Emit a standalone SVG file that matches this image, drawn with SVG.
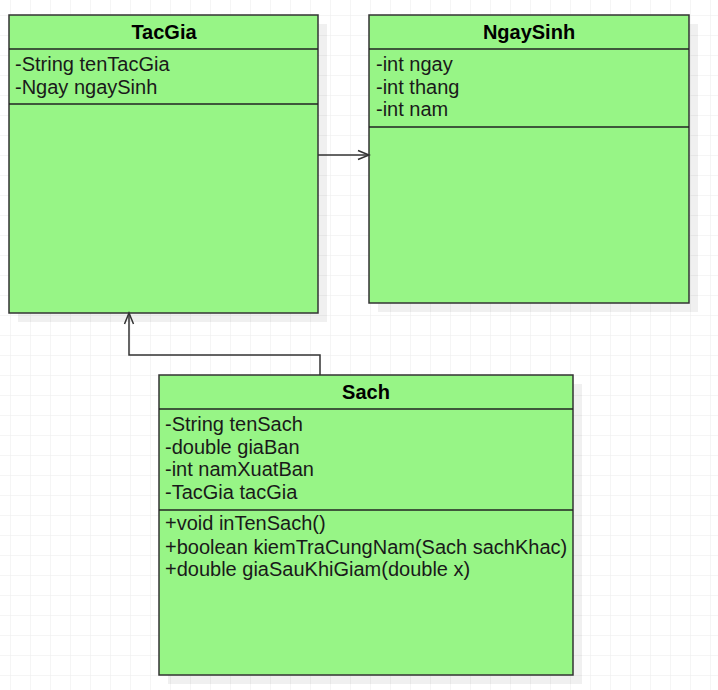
<svg xmlns="http://www.w3.org/2000/svg" width="718" height="690" viewBox="0 0 718 690">
<defs>
<pattern id="grid" x="10" y="15" width="20" height="20" patternUnits="userSpaceOnUse">
<path d="M0 0H20M0 0V20" fill="none" stroke="#ececec" stroke-width="1"/>
</pattern>
<marker id="open" markerWidth="14" markerHeight="14" refX="12" refY="7" orient="auto" markerUnits="userSpaceOnUse">
<path d="M1 2.5L12 7L1 11.5" fill="none" stroke="#333" stroke-width="1.5"/>
</marker>
</defs>
<style>
.shadow{fill:#000;fill-opacity:0.06}
.box{fill:#97f586;stroke:#333;stroke-width:1.5}
.div{stroke:#222;stroke-width:1.5}
.title{font-family:"Liberation Sans",Arial,sans-serif;font-size:20px;font-weight:bold;fill:#000;text-anchor:middle}
.t{font-family:"Liberation Sans",Arial,sans-serif;font-size:20px;fill:#1a1a1a}
.edge{fill:none;stroke:#333;stroke-width:1.5}
</style>
<rect width="718" height="690" fill="#fff"/>
<rect width="718" height="690" fill="url(#grid)"/>
<g id="TacGia">
<rect class="shadow" x="18" y="24" width="309" height="298"/>
<rect class="box" x="9" y="15" width="309" height="298"/>
<line class="div" x1="9" y1="49" x2="318" y2="49"/>
<line class="div" x1="9" y1="104" x2="318" y2="104"/>
<text class="title" x="164" y="39">TacGia</text>
<text class="t" x="15" y="71">-String tenTacGia</text>
<text class="t" x="15" y="94">-Ngay ngaySinh</text>
</g>
<g id="NgaySinh">
<rect class="shadow" x="378" y="24" width="320" height="288"/>
<rect class="box" x="369" y="15" width="320" height="288"/>
<line class="div" x1="369" y1="49" x2="689" y2="49"/>
<line class="div" x1="369" y1="127" x2="689" y2="127"/>
<text class="title" x="529" y="39">NgaySinh</text>
<text class="t" x="376" y="71">-int ngay</text>
<text class="t" x="376" y="94">-int thang</text>
<text class="t" x="376" y="116">-int nam</text>
</g>
<g id="Sach">
<rect class="shadow" x="168" y="384" width="414" height="300"/>
<rect class="box" x="159" y="375" width="414" height="300"/>
<line class="div" x1="159" y1="409" x2="573" y2="409"/>
<line class="div" x1="159" y1="510" x2="573" y2="510"/>
<text class="title" x="366" y="399">Sach</text>
<text class="t" x="165" y="431">-String tenSach</text>
<text class="t" x="165" y="454">-double giaBan</text>
<text class="t" x="165" y="476">-int namXuatBan</text>
<text class="t" x="165" y="499">-TacGia tacGia</text>
<text class="t" x="165" y="530">+void inTenSach()</text>
<text class="t" x="165" y="554">+boolean kiemTraCungNam(Sach sachKhac)</text>
<text class="t" x="165" y="576">+double giaSauKhiGiam(double x)</text>
</g>
<g id="connectors">
<path class="edge" d="M318 155H369" marker-end="url(#open)"/>
<path class="edge" d="M320 375V355H129V313" marker-end="url(#open)"/>
</g>
</svg>
